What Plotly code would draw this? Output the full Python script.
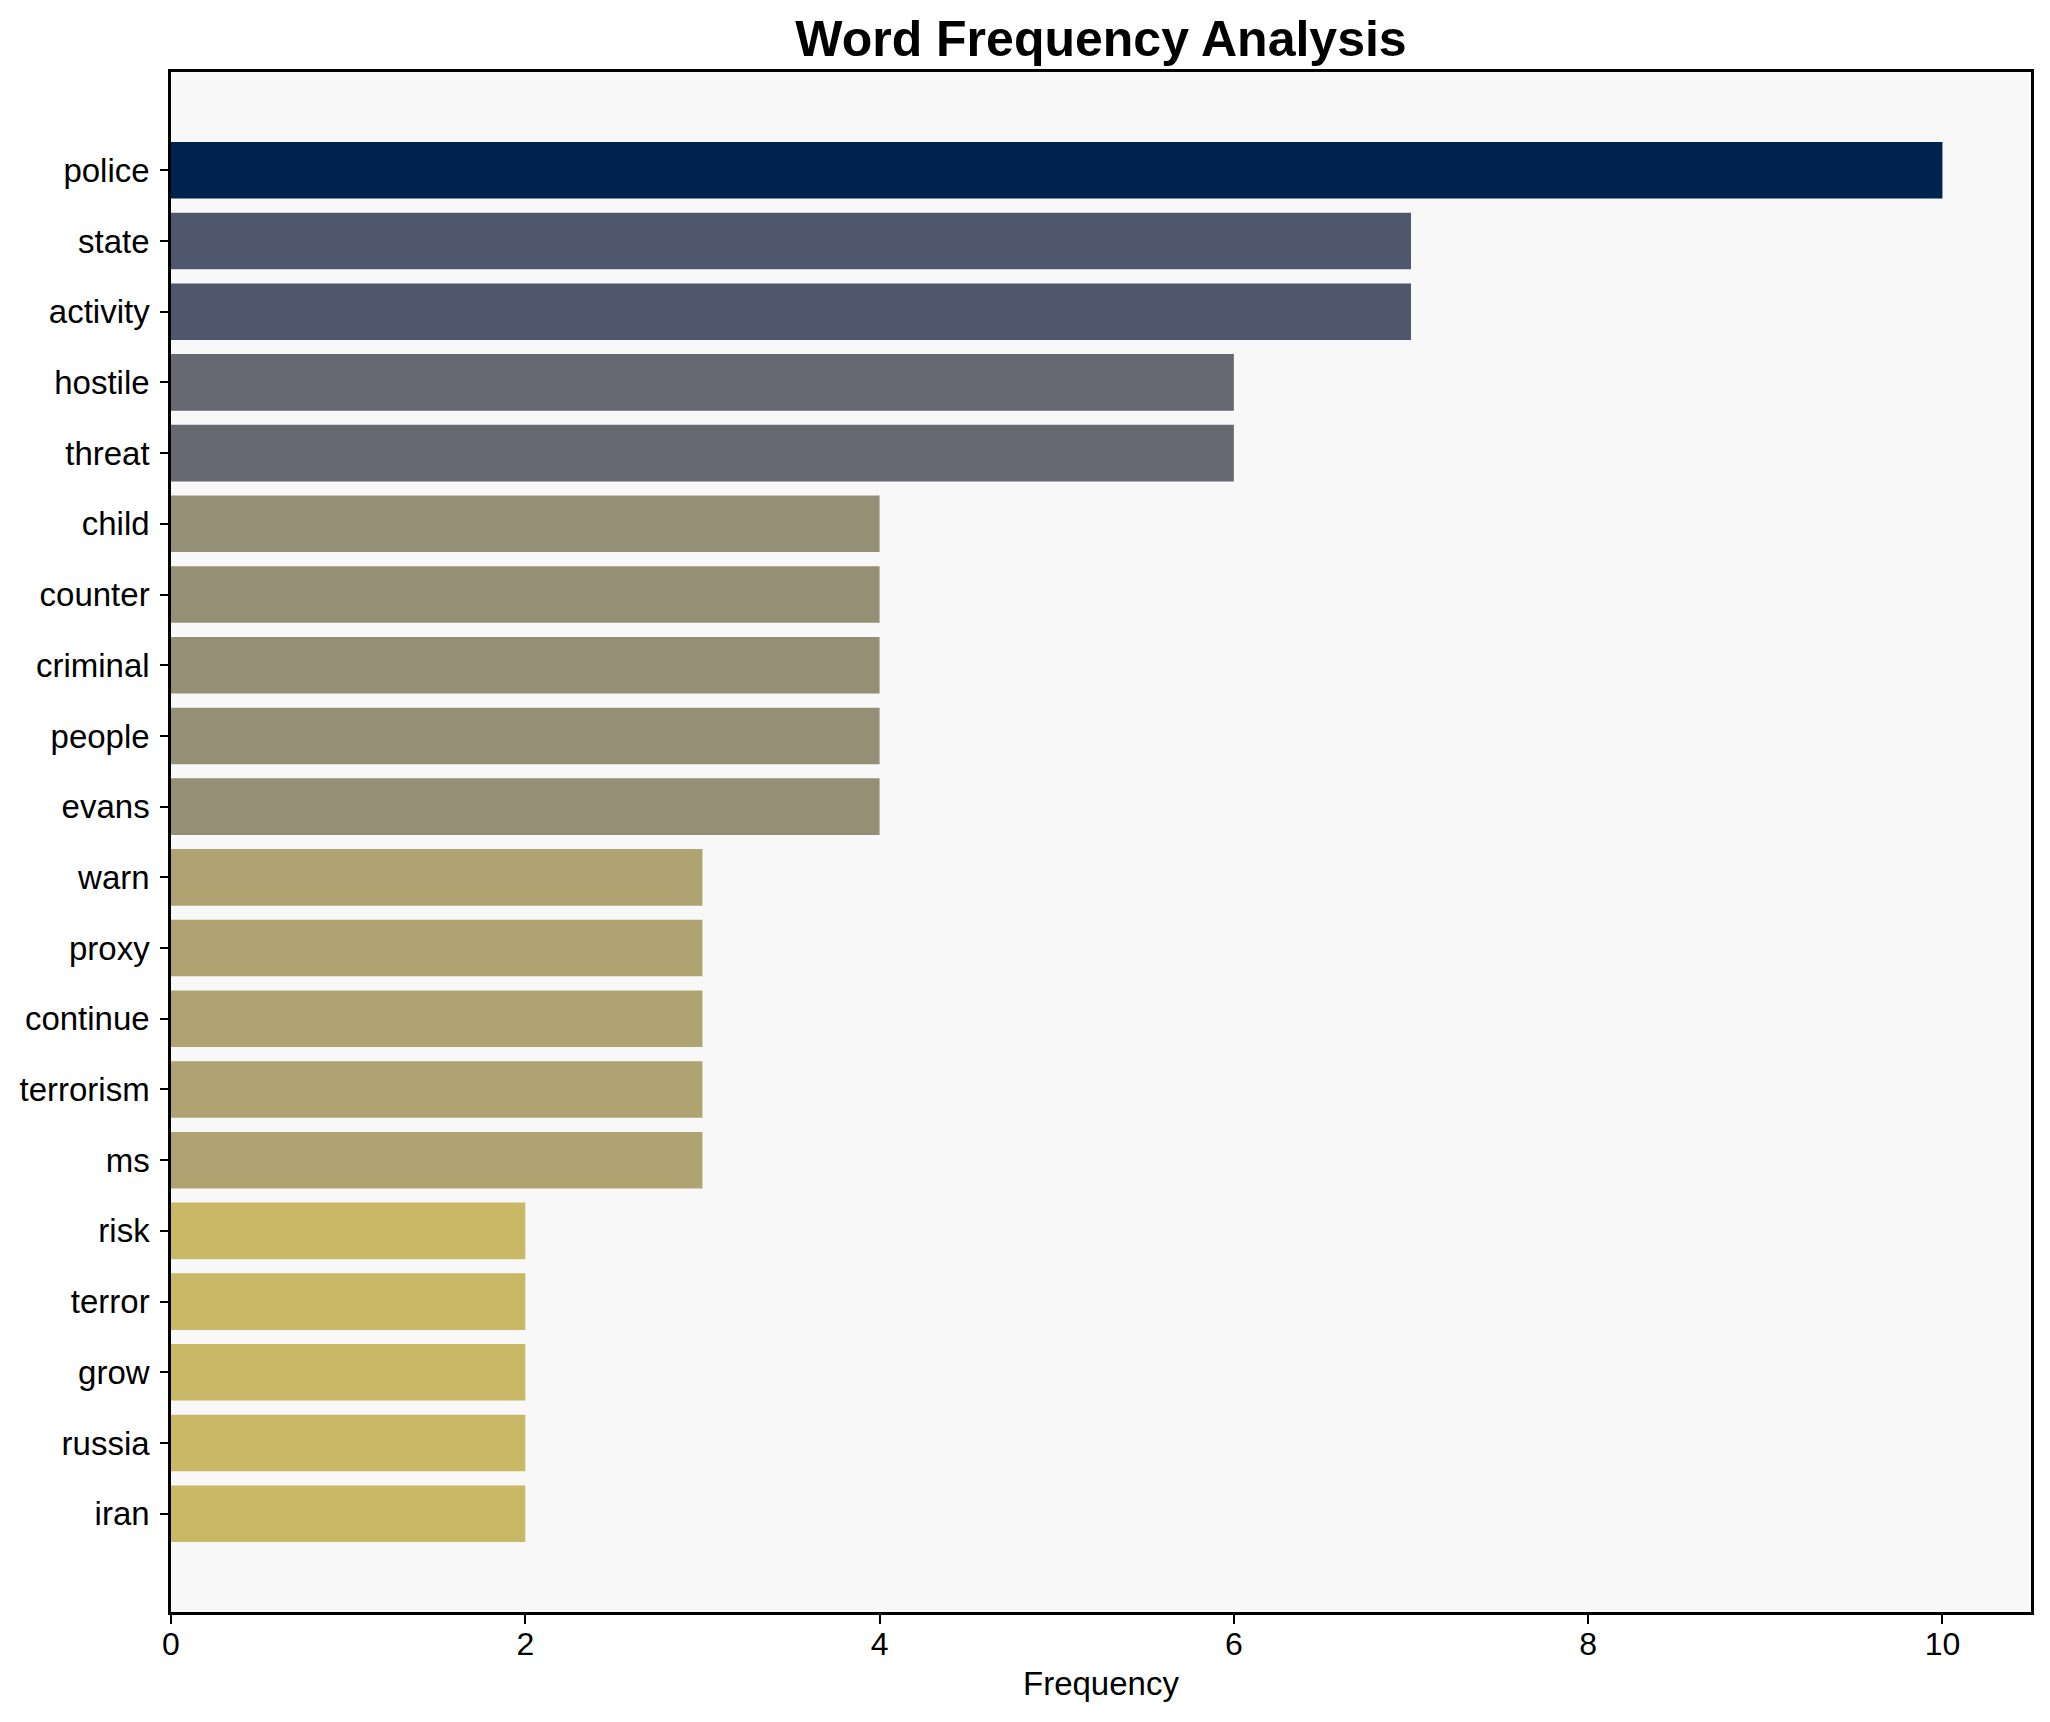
import plotly.graph_objects as go

words = ["police", "state", "activity", "hostile", "threat", "child", "counter",
         "criminal", "people", "evans", "warn", "proxy", "continue", "terrorism",
         "ms", "risk", "terror", "grow", "russia", "iran"]
freq = [10, 7, 7, 6, 6, 4, 4, 4, 4, 4, 3, 3, 3, 3, 3, 2, 2, 2, 2, 2]
x_ticks = [0, 2, 4, 6, 8, 10]

FONT = "Liberation Sans, Arial, Helvetica, sans-serif"
W, H = 2050, 1722
L, R, T, B = 171, 19, 72, 110

fig = go.Figure(go.Bar(
    x=freq, y=words, orientation="h", width=0.8,
    marker=dict(color=freq, colorscale="Cividis", reversescale=True,
                cmin=0, cmax=max(freq), line=dict(width=0)),
    hoverinfo="x+y",
))

fig.update_layout(
    width=W, height=H,
    margin=dict(l=L, r=R, t=T, b=B, pad=0),
    paper_bgcolor="white",
    plot_bgcolor="#f8f8f8",
    showlegend=False,
    font=dict(family=FONT, color="black"),
    title=dict(text="<b>Word Frequency Analysis</b>", x=(L + (W - R)) / 2 / W,
               xanchor="center", xref="container",
               y=1 - 38 / H, yanchor="middle", yref="container",
               font=dict(family=FONT, size=50, color="black")),
)
fig.update_xaxes(
    range=[0, 10.5], tickvals=x_ticks, ticktext=[str(v) for v in x_ticks],
    showgrid=False, zeroline=False,
    showline=True, linecolor="black", linewidth=2.5, mirror=True,
    ticks="outside", ticklen=9, tickwidth=2, tickcolor="black",
    tickfont=dict(family=FONT, size=32, color="black"),
    ticklabelstandoff=-7,
)
fig.update_yaxes(
    type="category", categoryorder="array", categoryarray=words,
    range=[len(words) - 1 + 1.39, -1.39],
    showgrid=False, zeroline=False,
    showline=True, linecolor="black", linewidth=2.5, mirror=True,
    ticks="outside", ticklen=8, tickwidth=2, tickcolor="black",
    tickfont=dict(family=FONT, size=33, color="black"),
    ticklabelstandoff=4,
)
fig.add_annotation(
    text="Frequency", xref="paper", yref="paper", x=0.5, xanchor="center",
    y=-(1683 - (H - B)) / (H - T - B), yanchor="middle", showarrow=False,
    font=dict(family=FONT, size=33, color="black"),
)

fig.write_html("out.html", config={"displayModeBar": False},
               post_script="document.body.style.margin='0';document.body.style.overflow='hidden';")
